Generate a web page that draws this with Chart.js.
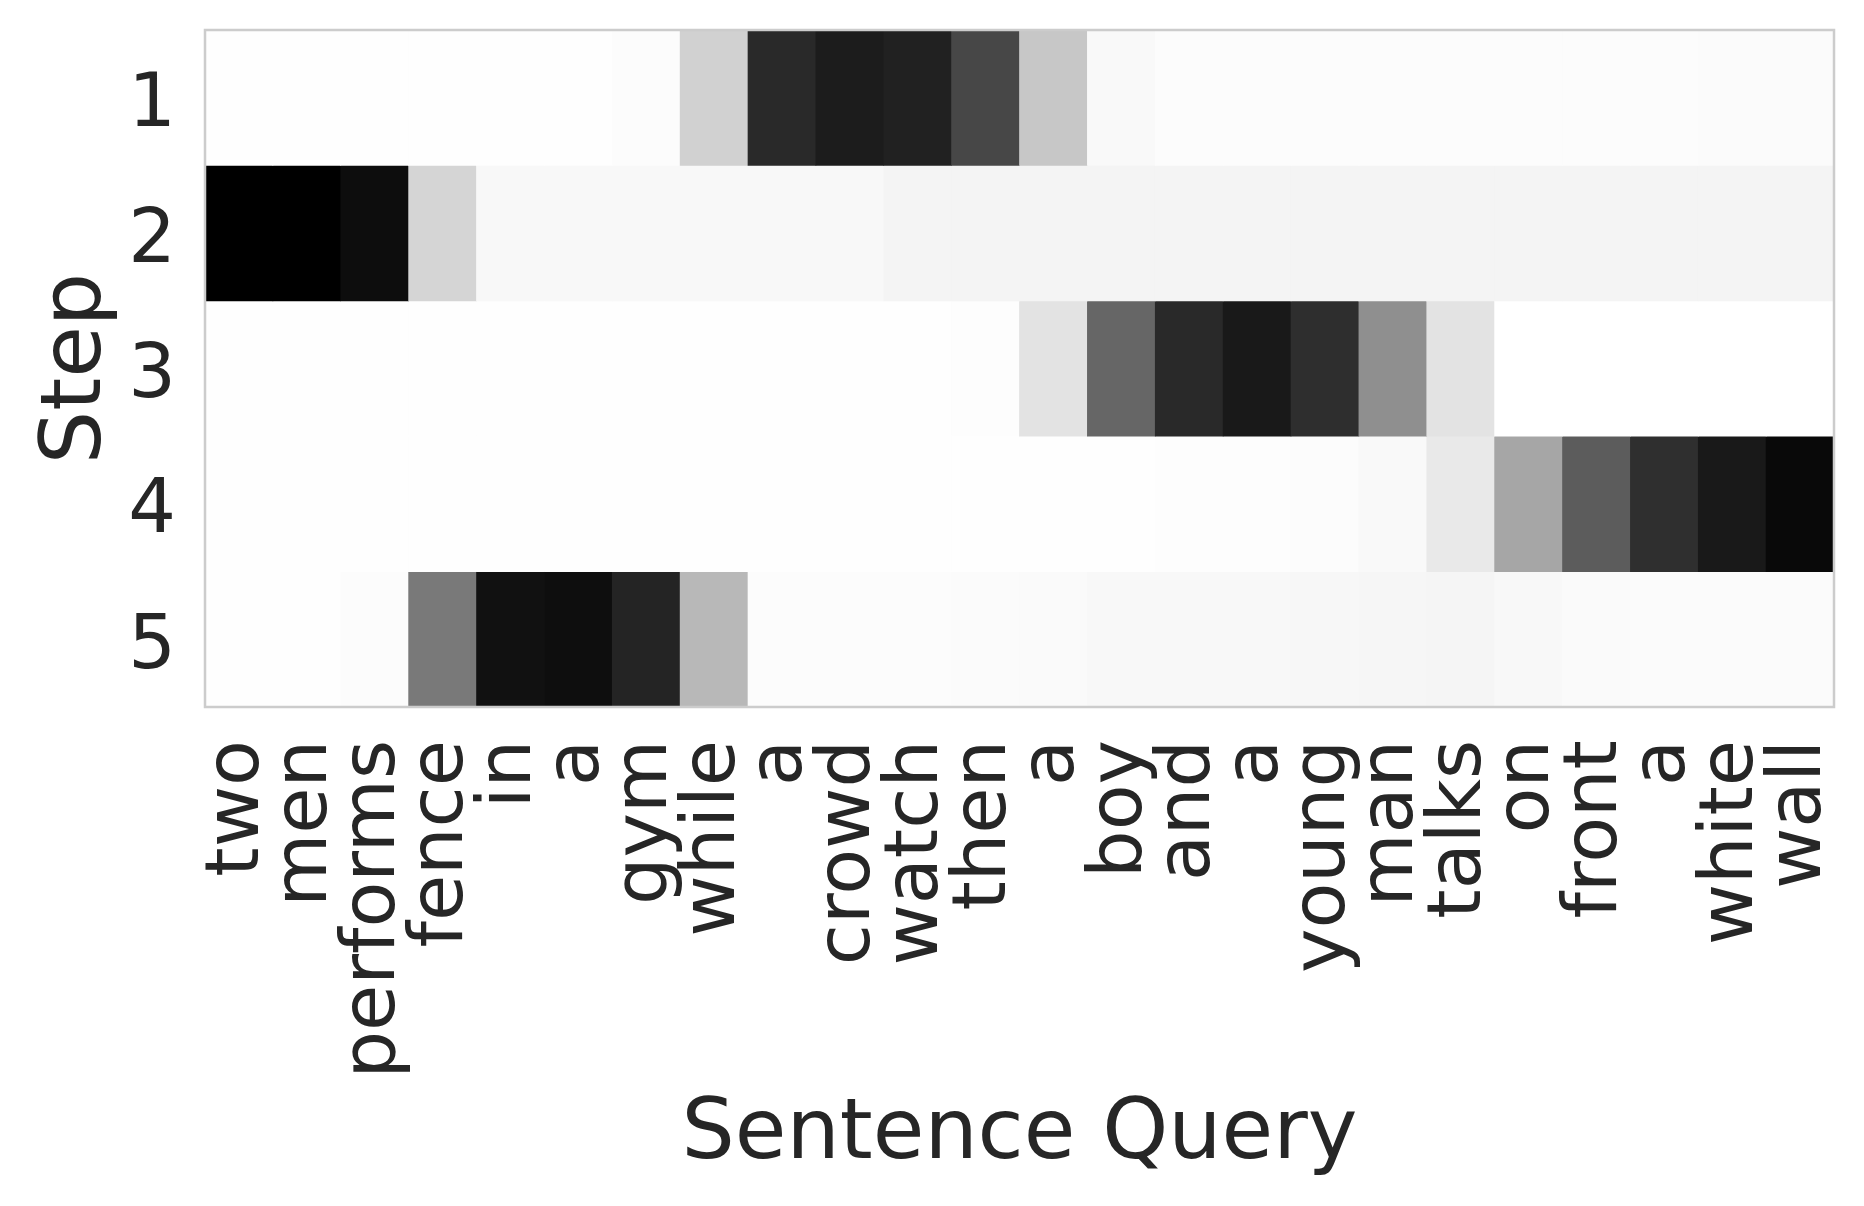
<!DOCTYPE html>
<html>
<head>
<meta charset="utf-8">
<script src="https://cdn.jsdelivr.net/npm/chart.js@4.4.0/dist/chart.umd.min.js"></script>
<style>
  html, body { margin: 0; padding: 0; background: #fff; }
  #wrap { width: 1864px; height: 1206px; }
</style>
</head>
<body>
<div id="wrap"><canvas id="heatmap" width="1864" height="1206"></canvas></div>
<script>
// sentence query words (columns) and steps (rows)
const words = ["two", "men", "performs", "fence", "in", "a", "gym", "while", "a", "crowd", "watch", "then",
  "a", "boy", "and", "a", "young", "man", "talks", "on", "front", "a", "white", "wall"];
const steps = ["1", "2", "3", "4", "5"];

// attention weight per word, one array per step
const step1 = [0.004, 0.004, 0.004, 0.004, 0.004, 0.004, 0.01, 0.18, 0.84, 0.89, 0.87, 0.72,
  0.22, 0.024, 0.012, 0.012, 0.012, 0.012, 0.012, 0.012, 0.012, 0.012, 0.016, 0.016];
const step2 = [1.0, 1.0, 0.95, 0.165, 0.027, 0.027, 0.027, 0.027, 0.027, 0.027, 0.043, 0.043,
  0.043, 0.043, 0.043, 0.043, 0.043, 0.043, 0.043, 0.043, 0.043, 0.043, 0.043, 0.043];
const step3 = [0.004, 0.004, 0.004, 0.004, 0.004, 0.004, 0.004, 0.004, 0.004, 0.004, 0.004, 0.008,
  0.11, 0.6, 0.84, 0.9, 0.82, 0.44, 0.11, 0.0, 0.0, 0.0, 0.0, 0.0];
const step4 = [0.004, 0.004, 0.004, 0.004, 0.004, 0.004, 0.004, 0.004, 0.004, 0.004, 0.004, 0.004,
  0.004, 0.004, 0.008, 0.008, 0.012, 0.024, 0.086, 0.35, 0.64, 0.815, 0.9, 0.965];
const step5 = [0.004, 0.004, 0.012, 0.525, 0.933, 0.945, 0.86, 0.28, 0.012, 0.012, 0.012, 0.016,
  0.02, 0.027, 0.027, 0.027, 0.031, 0.035, 0.039, 0.027, 0.02, 0.016, 0.016, 0.016];

const weights = [step1, step2, step3, step4, step5];

const textColor = "#262626";
const fontFamily = "'DejaVu Sans', sans-serif";

// grey colormap, 0 = white, 1 = black
function shade(v) {
  const g = Math.round(255 * (1 - v));
  return "rgb(" + g + "," + g + "," + g + ")";
}

// light frame round the plot area, like the seaborn spines
const frame = {
  id: "frame",
  afterDatasetsDraw(chart) {
    const { ctx, chartArea: a } = chart;
    ctx.save();
    ctx.strokeStyle = "#cccccc";
    ctx.lineWidth = 2.5;
    ctx.strokeRect(a.left, a.top, a.right - a.left, a.bottom - a.top);
    ctx.restore();
  },
};

const datasets = weights.map(function (row, r) {
  return {
    label: "Step " + steps[r],
    data: words.map(function () { return [r, r + 1]; }),
    backgroundColor: row.map(shade),
    borderWidth: 0,
    barPercentage: 1,
    categoryPercentage: 1,
    grouped: false,
  };
});

new Chart(document.getElementById("heatmap"), {
  type: "bar",
  data: { labels: words, datasets: datasets },
  plugins: [frame],
  options: {
    responsive: false,
    animation: false,
    devicePixelRatio: 1,
    layout: { padding: { top: 30, right: 30, bottom: 0, left: 0 } },
    plugins: {
      legend: { display: false },
      tooltip: { enabled: false },
    },
    scales: {
      x: {
        type: "category",
        grid: { display: false, drawTicks: false },
        border: { display: false },
        ticks: {
          autoSkip: false,
          minRotation: 90,
          maxRotation: 90,
          padding: 33,
          color: textColor,
          font: { family: fontFamily, size: 75 },
        },
        title: {
          display: true,
          text: "Sentence Query",
          color: textColor,
          font: { family: fontFamily, size: 84 },
          padding: { top: 0, bottom: 19 },
        },
        afterFit(scale) {
          scale.height = 499;
          scale.paddingLeft = 0;
          scale.paddingRight = 0;
        },
      },
      y: {
        type: "linear",
        min: 0,
        max: 5,
        reverse: true,
        grid: { display: false, drawTicks: false },
        border: { display: false },
        afterBuildTicks(axis) {
          axis.ticks = steps.map(function (s, i) { return { value: i + 0.5 }; });
        },
        ticks: {
          padding: 29,
          labelOffset: 9,
          color: textColor,
          font: { family: fontFamily, size: 75 },
          callback: function (value, index) { return steps[index]; },
        },
        title: {
          display: true,
          text: "Step",
          color: textColor,
          font: { family: fontFamily, size: 84 },
          padding: { top: 28, bottom: 0 },
        },
        afterFit(scale) {
          scale.width = 205;
          scale.paddingTop = 0;
          scale.paddingBottom = 0;
        },
      },
    },
  },
});
</script>
</body>
</html>
